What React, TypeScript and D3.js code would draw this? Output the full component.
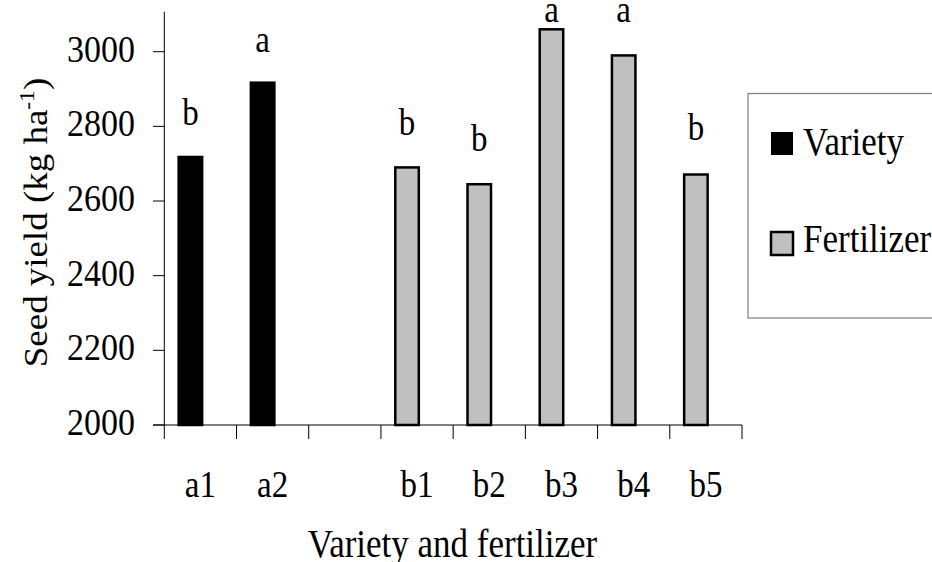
import React from "react";
import * as d3 from "d3";

const categories = ["a1", "a2", "", "b1", "b2", "b3", "b4", "b5"];
const groups = ["Variety", "Variety", "", "Fertilizer", "Fertilizer", "Fertilizer", "Fertilizer", "Fertilizer"];
const yields: (number | null)[] = [2718, 2917, null, 2690, 2645, 3060, 2990, 2671];
const letters = ["b", "a", "", "b", "b", "a", "a", "b"];
const letterHeights: (number | null)[] = [2804, 3000, null, 2777, 2735, 3080, 3080, 2763];
const yTicks = [2000, 2200, 2400, 2600, 2800, 3000];
const legendItems = ["Variety", "Fertilizer"];
const colors: Record<string, string> = { Variety: "#000000", Fertilizer: "#c0c0c0" };

const W = 932;
const H = 562;
const FONT = "'Liberation Serif', 'Times New Roman', serif";
const SY = 1.12;

export default function App() {
  const x = d3.scaleBand<number>().domain(d3.range(categories.length)).range([164.3, 742]).padding(0);
  const y = d3.scaleLinear().domain([2000, 3000]).range([425, 51.7]);
  const barW = 23.5;
  const barShift = -10;
  const yTop = y(3107);

  const txt = (tx: number, ty: number, s: string, anchor: string, size: number, key?: any) => (
    <text
      key={key}
      transform={`translate(${tx},${ty}) scale(1,${SY})`}
      textAnchor={anchor}
      fontSize={size}
      fontFamily={FONT}
      fill="#000"
    >
      {s}
    </text>
  );

  return (
    <div style={{ position: "absolute", left: 0, top: 0 }}>
      <svg width={W} height={H} style={{ display: "block", background: "#fff" }}>
        {/* y axis */}
        <line x1={164.3} x2={164.3} y1={yTop} y2={y(2000)} stroke="#000" strokeWidth={1} />
        {yTicks.map((t) => (
          <g key={t}>
            <line x1={153} x2={164.3} y1={y(t)} y2={y(t)} stroke="#000" strokeWidth={1} />
            {txt(135, y(t) + 10, String(t), "end", 34)}
          </g>
        ))}
        {/* x axis */}
        <line x1={153} x2={742} y1={y(2000)} y2={y(2000)} stroke="#000" strokeWidth={1} />
        {d3.range(categories.length + 1).map((i) => {
          const xx = i < categories.length ? (x(i) as number) : (x(categories.length - 1) as number) + x.bandwidth();
          return <line key={i} x1={xx} x2={xx} y1={y(2000)} y2={y(2000) + 14} stroke="#000" strokeWidth={1} />;
        })}
        {/* bars */}
        {categories.map((c, i) => {
          const v = yields[i];
          if (v == null) return null;
          const cx = (x(i) as number) + x.bandwidth() / 2 + barShift;
          const g = groups[i];
          return (
            <rect
              key={i}
              x={cx - barW / 2}
              y={y(v)}
              width={barW}
              height={y(2000) - y(v)}
              fill={colors[g]}
              stroke="#000"
              strokeWidth={2.5}
            />
          );
        })}
        {/* significance letters */}
        {categories.map((c, i) => {
          const h = letterHeights[i];
          if (h == null) return null;
          const cx = (x(i) as number) + x.bandwidth() / 2 + barShift;
          return txt(cx, y(h), letters[i], "middle", 33, "l" + i);
        })}
        {/* category labels */}
        {categories.map((c, i) =>
          c ? txt((x(i) as number) + x.bandwidth() / 2, 496.7, c, "middle", 33, "c" + i) : null
        )}
        {/* x title */}
        {txt(452.5, 556.7, "Variety and fertilizer", "middle", 35)}
        {/* y title */}
        <text
          transform={`translate(46.7,222.5) scale(1,${SY}) rotate(-90)`}
          textAnchor="middle"
          fontSize={33}
          fontFamily={FONT}
        >
          Seed yield (kg ha
          <tspan dy={-13} fontSize={21}>-1</tspan>
          <tspan dy={13}>)</tspan>
        </text>
        {/* legend */}
        <rect x={748} y={93.5} width={190} height={224.5} fill="#fff" stroke="#808080" strokeWidth={1.2} />
        {legendItems.map((s, i) => (
          <g key={s}>
            <rect
              x={771}
              y={132 + i * 100}
              width={22}
              height={23}
              fill={colors[s]}
              stroke="#000"
              strokeWidth={s === "Fertilizer" ? 2.5 : 0}
            />
            {txt(803, 155 + i * 97, s, "start", 35)}
          </g>
        ))}
      </svg>
    </div>
  );
}
